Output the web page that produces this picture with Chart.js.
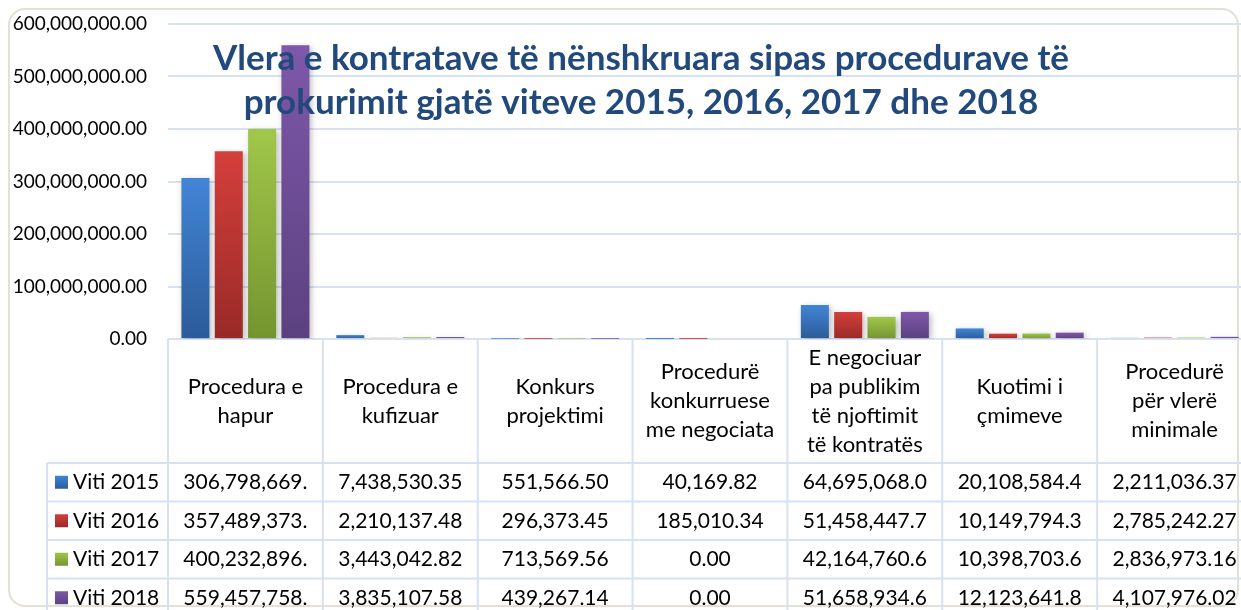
<!DOCTYPE html>
<html><head><meta charset="utf-8">
<script src="https://cdn.jsdelivr.net/npm/chart.js@4.4.0/dist/chart.umd.min.js"></script>
<style>
html,body{margin:0;padding:0;background:#fff;overflow:hidden;width:1241px;height:610px}
#wrap{position:absolute;left:0;top:0;width:1252px;height:630px}
</style></head>
<body><div id="wrap"><canvas id="c" width="1252" height="630"></canvas></div>
<script>
const categories = [
  ["Procedura e","hapur"],
  ["Procedura e","kufizuar"],
  ["Konkurs","projektimi"],
  ["Procedurë","konkurruese","me negociata"],
  ["E negociuar","pa publikim","të njoftimit","të kontratës"],
  ["Kuotimi i","çmimeve"],
  ["Procedurë","për vlerë","minimale"]
];
const seriesNames = ["Viti 2015","Viti 2016","Viti 2017","Viti 2018"];
const viti2015 = [306798669.00, 7438530.35, 551566.50, 40169.82, 64695068.00, 20108584.40, 2211036.37];
const viti2016 = [357489373.00, 2210137.48, 296373.45, 185010.34, 51458447.70, 10149794.30, 2785242.27];
const viti2017 = [400232896.00, 3443042.82, 713569.56, 0.00, 42164760.60, 10398703.60, 2836973.16];
const viti2018 = [559457758.00, 3835107.58, 439267.14, 0.00, 51658934.60, 12123641.80, 4107976.02];
const titleLines = ["Vlera e kontratave të nënshkruara sipas procedurave të","prokurimit gjatë viteve 2015, 2016, 2017 dhe 2018"];
const yMin = 0, yMax = 600000000, yStep = 100000000;

const seriesData = [viti2015, viti2016, viti2017, viti2018];
const palette = [
  {top:'#4285d6', bot:'#2b5b98'},
  {top:'#d43f3b', bot:'#992a27'},
  {top:'#a1c74a', bot:'#74942f'},
  {top:'#7e58aa', bot:'#5c4180'}
];
const FONT = 'Lato, "Open Sans", sans-serif';
const fmt = v => Number(v).toLocaleString('en-US',{minimumFractionDigits:2,maximumFractionDigits:2});

function barFill(i){
  return function(ctx){
    const chart = ctx.chart;
    if(!chart.chartArea || ctx.type !== 'data') return palette[i].top;
    const ys = chart.scales.y;
    const y0 = ys.getPixelForValue(0), y1 = ys.getPixelForValue(ctx.raw);
    if (Math.abs(y0-y1) < 1) return palette[i].top;
    const g = chart.ctx.createLinearGradient(0,y1,0,y0);
    g.addColorStop(0, palette[i].top);
    g.addColorStop(1, palette[i].bot);
    return g;
  };
}

const shadowPlugin = {
  id:'shadow',
  beforeDatasetsDraw(chart){
    const c = chart.ctx; c.save();
    c.shadowColor='rgba(0,0,0,0.28)'; c.shadowBlur=6; c.shadowOffsetX=2; c.shadowOffsetY=2;
  },
  afterDatasetsDraw(chart){ chart.ctx.restore(); }
};

const framePlugin = {
  id:'frame',
  beforeDraw(chart){
    const c = chart.ctx;
    c.save();
    c.fillStyle='#fff'; c.fillRect(0,0,chart.width,chart.height);
    c.strokeStyle='#e4e1d3'; c.lineWidth=2;
    c.beginPath();
    c.roundRect(9,9,1229,597,16);
    c.stroke();
    c.restore();
  }
};

const tablePlugin = {
  id:'table',
  afterDraw(chart){
    const c = chart.ctx, xs = chart.scales.x, area = chart.chartArea;
    const n = categories.length;
    const colW = (area.right-area.left)/n;
    const headTop = area.bottom, headBot = 463, rowH = 38.5, legLeft = 47;
    const nRows = seriesNames.length;
    const tableBot = headBot + rowH*nRows;
    c.save();
    c.strokeStyle='#d6e2f1'; c.lineWidth=2;
    for(let i=0;i<=n;i++){
      const x = area.left + i*colW;
      c.beginPath(); c.moveTo(x,headTop); c.lineTo(x,tableBot); c.stroke();
    }
    c.beginPath(); c.moveTo(legLeft,headBot); c.lineTo(legLeft,tableBot); c.stroke();
    for(let r=0;r<=nRows;r++){
      const y = headBot + r*rowH;
      c.beginPath(); c.moveTo(legLeft,y); c.lineTo(area.right,y); c.stroke();
    }
    c.fillStyle='#000'; c.textAlign='center'; c.textBaseline='middle';
    c.font = '22px ' + FONT;
    const lh = 29, midH = (headTop+headBot)/2;
    categories.forEach((lines,i)=>{
      const cx = xs.getPixelForValue(i);
      const y0 = midH - (lines.length-1)*lh/2;
      lines.forEach((t,k)=> c.fillText(t, cx, y0 + k*lh));
    });
    c.font = '21px ' + FONT;
    seriesNames.forEach((name,r)=>{
      const cy = headBot + r*rowH + rowH/2;
      const g = c.createLinearGradient(0,cy-7,0,cy+7);
      g.addColorStop(0,palette[r].top); g.addColorStop(1,palette[r].bot);
      c.fillStyle = g; c.fillRect(55, cy-6.5, 13, 13);
      c.fillStyle='#000'; c.textAlign='left';
      c.fillText(name, 73, cy);
      c.textAlign='center';
      seriesData[r].forEach((v,i)=>{
        let s = fmt(v);
        const maxW = colW - 24;
        while (s.length > 1 && c.measureText(s).width > maxW) s = s.slice(0,-1);
        c.fillText(s, xs.getPixelForValue(i), cy);
      });
    });
    c.fillStyle='#21497c'; c.font='bold 35px ' + FONT; c.textAlign='center'; c.textBaseline='alphabetic';
    c.fillText(titleLines[0], 641, 70);
    c.fillText(titleLines[1], 641, 114);
    c.restore();
  }
};

new Chart(document.getElementById('c'), {
  type:'bar',
  data:{
    labels: categories,
    datasets: seriesNames.map((name,i)=>({
      label:name, data:seriesData[i], backgroundColor:barFill(i), borderWidth:0,
      barPercentage:0.84, categoryPercentage:0.861
    }))
  },
  options:{
    responsive:false, animation:false,
    layout:{padding:{top:24,bottom:630-339,left:0,right:0}},
    plugins:{legend:{display:false}, title:{display:false}, tooltip:{enabled:false}},
    scales:{
      x:{display:false},
      y:{
        min:yMin, max:yMax,
        ticks:{stepSize:yStep, padding:0, color:'#000', font:{family:FONT,size:19}, callback:v=>fmt(v)},
        grid:{color:'#d6e2f1', lineWidth:2, drawTicks:true, tickLength:21, tickColor:'rgba(0,0,0,0)'},
        border:{display:false},
        afterFit(s){ s.width = 168; }
      }
    }
  },
  plugins:[framePlugin, shadowPlugin, tablePlugin]
});
</script>
</body></html>
